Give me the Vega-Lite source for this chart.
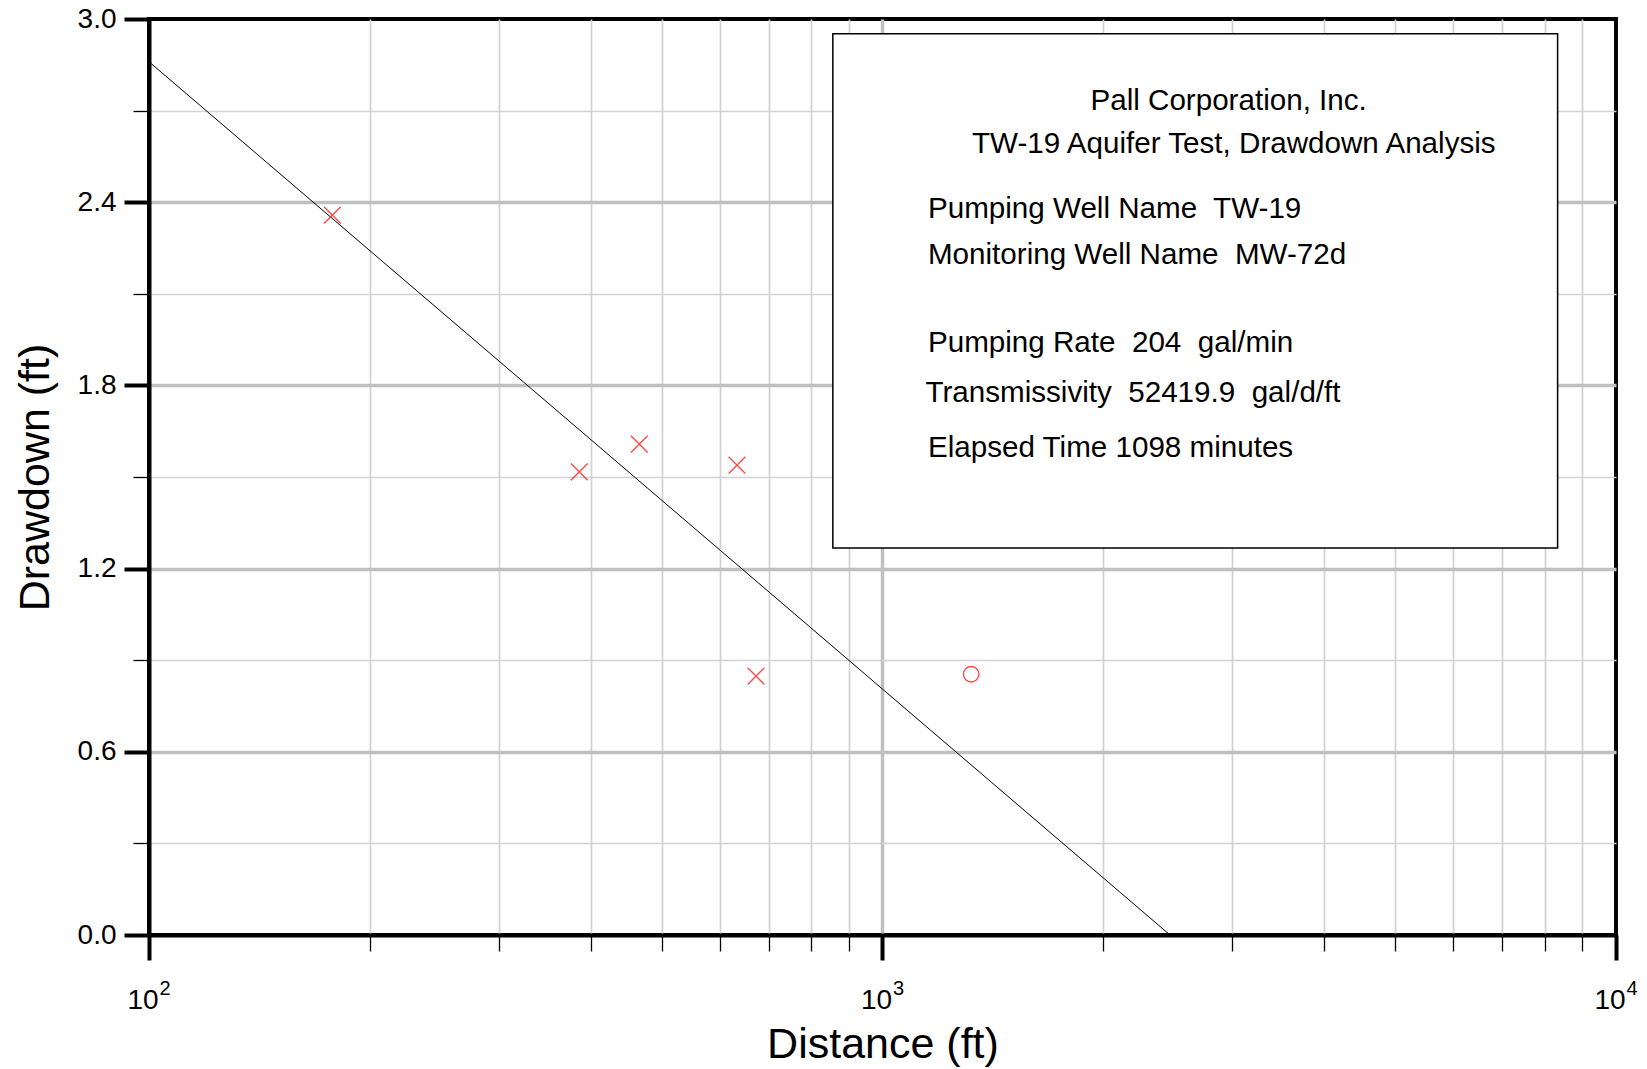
{
  "$schema": "https://vega.github.io/schema/vega-lite/v6.json",
  "width": 1467,
  "height": 916,
  "autosize": {"type": "none"},
  "padding": {"left": 149, "top": 19, "right": 31, "bottom": 134},
  "background": "white",
  "config": {
    "font": "Liberation Sans",
    "view": {"stroke": "black", "strokeWidth": 4}
  },
  "datasets": {
    "box": [{"x1": 855.6, "x2": 8325, "y1": 1.2675, "y2": 2.9516}],
    "fit": [{"r": 100, "s": 2.86}, {"r": 2466, "s": 0}],
    "obs": [
      {"r": 177.8, "s": 2.358, "marker": "x"},
      {"r": 386.0, "s": 1.517, "marker": "x"},
      {"r": 466.0, "s": 1.608, "marker": "x"},
      {"r": 633.3, "s": 1.539, "marker": "x"},
      {"r": 672.3, "s": 0.848, "marker": "x"},
      {"r": 1321, "s": 0.854, "marker": "o"}
    ],
    "decades": [
      {"r": 100, "s": 0, "exp": "2"},
      {"r": 1000, "s": 0, "exp": "3"},
      {"r": 10000, "s": 0, "exp": "4"}
    ],
    "notes": [
      {"x": 1920.9, "y": 2.7013, "label": "Pall Corporation, Inc."},
      {"x": 1324.4, "y": 2.5625, "label": "TW-19 Aquifer Test, Drawdown Analysis"},
      {"x": 1153.4, "y": 2.3483, "label": "Pumping Well Name\u00a0 TW-19"},
      {"x": 1153.4, "y": 2.1983, "label": "Monitoring Well Name\u00a0 MW-72d"},
      {"x": 1153.4, "y": 1.9107, "label": "Pumping Rate\u00a0 204\u00a0 gal/min"},
      {"x": 1144.4, "y": 1.7447, "label": "Transmissivity\u00a0 52419.9\u00a0 gal/d/ft"},
      {"x": 1153.4, "y": 1.5642, "label": "Elapsed Time 1098 minutes"}
    ]
  },
  "resolve": {"axis": {"x": "independent", "y": "independent"}},
  "layer": [
    {
      "data": {"name": "box"},
      "mark": {"type": "rect", "fill": "white", "stroke": "black", "strokeWidth": 1.5},
      "encoding": {
        "x": {"field": "x1", "type": "quantitative", "scale": {"type": "log", "domain": [100, 10000], "nice": false}, "axis": null},
        "x2": {"field": "x2"},
        "y": {"field": "y1", "type": "quantitative", "scale": {"domain": [0, 3], "nice": false, "zero": false}, "axis": null},
        "y2": {"field": "y2"}
      }
    },
    {
      "data": {"name": "fit"},
      "mark": {"type": "line", "color": "black", "strokeWidth": 1},
      "encoding": {
        "x": {
          "field": "r", "type": "quantitative",
          "scale": {"type": "log", "domain": [100, 10000], "nice": false},
          "axis": {
            "orient": "bottom",
            "values": [100, 1000, 10000],
            "labelExpr": "'10'",
            "labelFont": "Liberation Sans",
            "labelFontSize": 28,
            "labelColor": "black",
            "labelPadding": 26,
            "labelOffset": -6.5,
            "labelFlush": false,
            "labelOverlap": false,
            "tickSize": 25,
            "tickWidth": 4,
            "tickColor": "black",
            "domain": true,
            "domainColor": "black",
            "domainWidth": 4,
            "grid": true,
            "gridColor": "#c0c0c0",
            "gridWidth": 3.5,
            "gridOpacity": {"condition": {"test": "datum.value < 150 || datum.value > 9500", "value": 0}, "value": 1},
            "title": "Distance (ft)",
            "titleFont": "Liberation Sans",
            "titleFontSize": 43,
            "titleFontWeight": "normal",
            "titleColor": "black",
            "titlePadding": 9
          }
        },
        "y": {
          "field": "s", "type": "quantitative",
          "scale": {"domain": [0, 3], "nice": false, "zero": false},
          "axis": {
            "orient": "left",
            "values": [0, 0.6, 1.2, 1.8, 2.4, 3.0],
            "format": ".1f",
            "labelFont": "Liberation Sans",
            "labelFontSize": 28,
            "labelColor": "black",
            "labelPadding": 8,
            "labelFlush": false,
            "labelOverlap": false,
            "tickSize": 25,
            "tickWidth": 4,
            "tickColor": "black",
            "domain": true,
            "domainColor": "black",
            "domainWidth": 4,
            "grid": true,
            "gridColor": "#c0c0c0",
            "gridWidth": 3.5,
            "gridOpacity": {"condition": {"test": "datum.value < 0.01 || datum.value > 2.99", "value": 0}, "value": 1},
            "title": "Drawdown (ft)",
            "titleFont": "Liberation Sans",
            "titleFontSize": 43,
            "titleFontWeight": "normal",
            "titleColor": "black",
            "titlePadding": 20
          }
        }
      }
    },
    {
      "data": {"name": "obs"},
      "mark": {"type": "point", "filled": false, "color": "red", "strokeWidth": 1.4},
      "encoding": {
        "x": {
          "field": "r", "type": "quantitative",
          "scale": {"type": "log", "domain": [100, 10000], "nice": false},
          "axis": {
            "orient": "bottom",
            "values": [200, 300, 400, 500, 600, 700, 800, 900, 2000, 3000, 4000, 5000, 6000, 7000, 8000, 9000],
            "labels": false,
            "tickSize": 16,
            "tickWidth": 1.3,
            "tickColor": "black",
            "domain": false,
            "grid": true,
            "gridColor": "#d2d2d2",
            "gridWidth": 1.7,
            "title": null
          }
        },
        "y": {
          "field": "s", "type": "quantitative",
          "scale": {"domain": [0, 3], "nice": false, "zero": false},
          "axis": {
            "orient": "left",
            "values": [0.3, 0.9, 1.5, 2.1, 2.7],
            "labels": false,
            "tickSize": 16,
            "tickWidth": 1.3,
            "tickColor": "black",
            "domain": false,
            "grid": true,
            "gridColor": "#d2d2d2",
            "gridWidth": 1.7,
            "title": null
          }
        },
        "shape": {
          "field": "marker", "type": "nominal",
          "scale": {"domain": ["x", "o"], "range": ["M-1,-1L1,1M-1,1L1,-1", "circle"]},
          "legend": null
        },
        "size": {
          "field": "marker", "type": "nominal",
          "scale": {"domain": ["x", "o"], "range": [280, 240]},
          "legend": null
        }
      }
    },
    {
      "data": {"name": "decades"},
      "mark": {"type": "text", "align": "left", "baseline": "alphabetic", "fontSize": 20, "font": "Liberation Sans", "color": "black", "dx": 10.5, "dy": 60},
      "encoding": {
        "x": {"field": "r", "type": "quantitative", "scale": {"type": "log", "domain": [100, 10000], "nice": false}, "axis": null},
        "y": {"field": "s", "type": "quantitative", "scale": {"domain": [0, 3], "nice": false, "zero": false}, "axis": null},
        "text": {"field": "exp"}
      }
    },
    {
      "data": {"name": "notes"},
      "mark": {"type": "text", "align": "left", "baseline": "alphabetic", "fontSize": 29.6, "font": "Liberation Sans", "color": "black"},
      "encoding": {
        "x": {"field": "x", "type": "quantitative", "scale": {"type": "log", "domain": [100, 10000], "nice": false}, "axis": null},
        "y": {"field": "y", "type": "quantitative", "scale": {"domain": [0, 3], "nice": false, "zero": false}, "axis": null},
        "text": {"field": "label"}
      }
    }
  ]
}
